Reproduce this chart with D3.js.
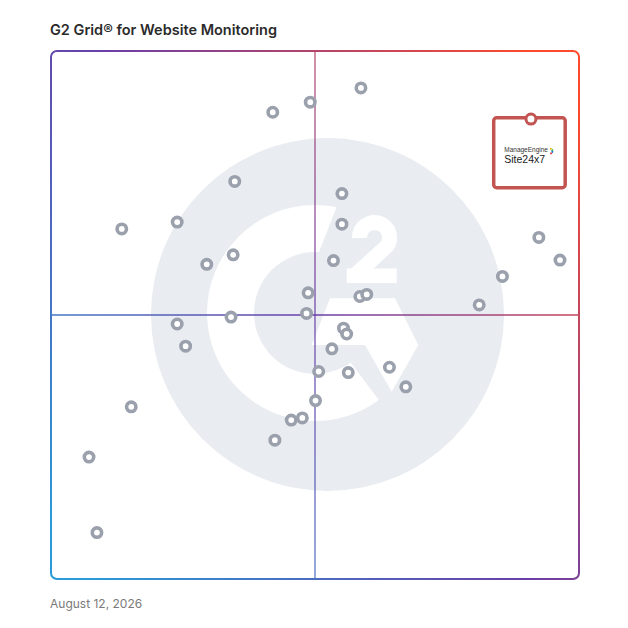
<!DOCTYPE html>
<html><head><meta charset="utf-8">
<script src="https://cdn.jsdelivr.net/npm/d3@7"></script>
<style>
html,body{margin:0;padding:0;background:#fff;}
svg{display:block;}
</style></head><body>
<svg id="chart" width="628" height="628"></svg>
<script>
// ---- data ----
const chartTitle = "G2 Grid® for Website Monitoring";
const dateLabel = "August 12, 2026";
// x = satisfaction, y = market presence (0–100 scale)
const vendorX = [58.7, 49.1, 42.0, 34.8, 55.1, 23.9, 13.4, 55.1, 34.5, 29.5, 53.5, 48.7,
                 58.5, 59.8, 48.4, 34.1, 23.9, 25.5, 55.4, 56.0, 53.2, 50.7, 56.3, 64.1,
                 67.2, 50.1, 15.2, 47.6, 45.5, 42.4, 7.2, 8.7, 92.4, 96.4, 85.5, 81.1];
const vendorY = [93.0, 90.3, 88.4, 75.3, 73.0, 67.6, 66.3, 67.2, 61.4, 59.6, 60.3, 54.2,
                 53.5, 53.9, 50.3, 49.6, 48.3, 44.1, 47.5, 46.4, 43.6, 39.3, 39.1, 40.1,
                 36.4, 33.8, 32.6, 30.5, 30.1, 26.3, 23.1, 8.8, 64.7, 60.4, 57.3, 51.9];
const featuredBrand = "ManageEngine";
const featuredName = "Site24x7";
const featuredX = [90.9];
const featuredY = [87.1];
const axisDomain = [0, 100];
const midValue = 50;

// ---- layout ----
const svg = d3.select("#chart");
const L = 51, R = 579, T = 51, B = 579;
const x = d3.scaleLinear().domain(axisDomain).range([L, R]);
const y = d3.scaleLinear().domain(axisDomain).range([B, T]);

const defs = svg.append("defs");
const grad = defs.append("linearGradient").attr("id", "g2grad")
  .attr("gradientUnits", "userSpaceOnUse")
  .attr("x1", L).attr("y1", T + 0.9 * (B - T))
  .attr("x2", R).attr("y2", T + 0.1 * (B - T));
grad.append("stop").attr("offset", "0").attr("stop-color", "#2a9ad8");
grad.append("stop").attr("offset", "0.5").attr("stop-color", "#6a3fa8");
grad.append("stop").attr("offset", "1").attr("stop-color", "#ff4a2b");

// title
svg.append("text").attr("x", 50).attr("y", 35)
  .attr("font-family", "Inter, 'Noto Sans', sans-serif")
  .attr("font-weight", 600).attr("font-size", 14.5).attr("fill", "#2b2b2b")
  .text(chartTitle);

// date
svg.append("text").attr("x", 50).attr("y", 608)
  .attr("font-family", "Inter, 'Noto Sans', sans-serif")
  .attr("font-size", 12).attr("fill", "#7a7a7a")
  .text(dateLabel);

// ---- watermark ----
const wm = svg.append("g").attr("class", "watermark");
const cx = 327.5, cy = 314.5;
wm.append("circle").attr("cx", cx).attr("cy", cy).attr("r", 176.5).attr("fill", "#e9ecf0");

const gx = 315, gy = 313;
defs.append("clipPath").attr("id", "gclip").append("polygon")
  .attr("points", [[345.2,185],[304.2,290],[320,321.7],[400,428.3],[180,428.3],[180,185]].map(p => p.join(",")).join(" "));
wm.append("g").attr("clip-path", "url(#gclip)")
  .append("path")
  .attr("d", d3.arc()({innerRadius: 61, outerRadius: 108, startAngle: 0, endAngle: 2 * Math.PI}))
  .attr("transform", `translate(${gx},${gy})`)
  .attr("fill", "#fff");
// chevron
wm.append("polygon")
  .attr("points", [[330,298.3],[395,298.3],[418.3,345],[391.7,391.7],[365,345],[311.7,345]].map(p => p.join(",")).join(" "))
  .attr("fill", "#fff");
// superscript 2
wm.append("path")
  .attr("d", "M 359.5,238 A 15 15 0 1 1 386.5,246.5 L 354,276")
  .attr("fill", "none").attr("stroke", "#fff").attr("stroke-width", 15);
wm.append("rect").attr("x", 346.7).attr("y", 268.5).attr("width", 50).attr("height", 14.5).attr("fill", "#fff");

// ---- quadrant lines ----
svg.append("line").attr("x1", x(midValue)).attr("x2", x(midValue)).attr("y1", T).attr("y2", B)
  .attr("stroke", "url(#g2grad)").attr("stroke-width", 1.6).attr("stroke-opacity", 0.75);
svg.append("line").attr("x1", L).attr("x2", R).attr("y1", y(midValue)).attr("y2", y(midValue))
  .attr("stroke", "url(#g2grad)").attr("stroke-width", 1.6).attr("stroke-opacity", 1);

// border
svg.append("rect").attr("x", L).attr("y", T).attr("width", R - L).attr("height", B - T)
  .attr("rx", 6).attr("fill", "none").attr("stroke", "url(#g2grad)").attr("stroke-width", 2);

// ---- vendor points ----
const pts = vendorX.map((v, i) => ({x: v, y: vendorY[i]}));
svg.append("g").selectAll("circle").data(pts).join("circle")
  .attr("cx", d => x(d.x)).attr("cy", d => y(d.y)).attr("r", 4.7)
  .attr("fill", "#fff").attr("stroke", "#9aa0ac").attr("stroke-width", 3.6);

// ---- featured vendor ----
const fcol = "#c25451";
const fg = svg.append("g");
const fx = x(featuredX[0]), fy = y(featuredY[0]);
fg.append("rect").attr("x", fx - 37.25).attr("y", fy - 1.25).attr("width", 71.5).attr("height", 69.8)
  .attr("rx", 3).attr("fill", "#fff").attr("stroke", fcol).attr("stroke-width", 3.5);
fg.append("circle").attr("cx", fx).attr("cy", fy).attr("r", 5)
  .attr("fill", "#fff").attr("stroke", fcol).attr("stroke-width", 3);
fg.append("text").attr("x", fx - 26.7).attr("y", fy + 33.3)
  .attr("font-family", "'Liberation Sans', Arial, sans-serif").attr("font-size", 6.5).attr("fill", "#333")
  .text(featuredBrand);
fg.append("text").attr("x", fx - 26.7).attr("y", fy + 43.8)
  .attr("font-family", "'Liberation Sans', Arial, sans-serif").attr("font-size", 10.5).attr("fill", "#1a1a1a")
  .text(featuredName);
// small brand icon
const icCols = ["#f4b400", "#37b34a", "#1a73e8", "#e53935"];
icCols.forEach((c, i) => {
  fg.append("path")
    .attr("d", d3.arc()({innerRadius: 1.6, outerRadius: 3.4, startAngle: i * Math.PI / 4, endAngle: (i + 1) * Math.PI / 4 - 0.1}))
    .attr("transform", `translate(${fx + 19},${fy + 32})`)
    .attr("fill", c);
});
</script>
</body></html>
